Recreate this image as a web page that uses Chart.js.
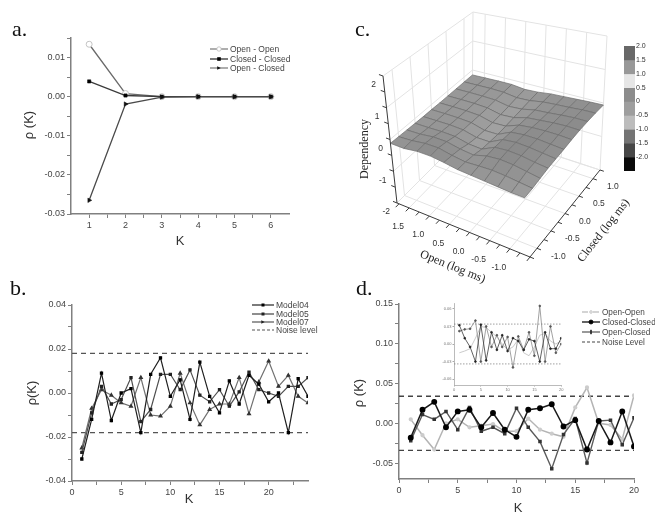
<!DOCTYPE html>
<html>
<head>
<meta charset="utf-8">
<script src="https://cdn.jsdelivr.net/npm/chart.js@4.4.1/dist/chart.umd.min.js"></script>
<style>
html,body{margin:0;padding:0;background:#fff;}
#root{position:relative;width:655px;height:513px;overflow:hidden;background:#fff;}
canvas{position:absolute;display:block;}
.plbl{position:absolute;font-family:"Liberation Serif","Times New Roman",serif;font-size:22px;line-height:22px;color:#111;}
.atitle{position:absolute;font-family:"Liberation Sans",Arial,sans-serif;font-size:13px;line-height:13px;color:#333;white-space:nowrap;}
.stitle{position:absolute;font-family:"Liberation Serif","Times New Roman",serif;font-size:12px;line-height:12px;color:#222;white-space:nowrap;}
.legrow{position:absolute;display:flex;align-items:center;font-family:"Liberation Sans",Arial,sans-serif;color:#444;white-space:nowrap;}
</style>
</head>
<body>
<div id="root">
<canvas id="cc" width="325" height="290" style="left:330px;top:0"></canvas>
<canvas id="ca" width="330" height="250" style="left:0;top:0"></canvas>
<canvas id="cb" width="330" height="263" style="left:0;top:250px"></canvas>
<canvas id="cd" width="325" height="263" style="left:330px;top:250px"></canvas>
<canvas id="cdi" width="126" height="96" style="left:440px;top:296px"></canvas>
<canvas id="ccb" width="39" height="140" style="left:616px;top:40px"></canvas>
</div>
<script>
// ================= DATA =================
// Panel a
const kA = [1, 2, 3, 4, 5, 6];
const openOpenA     = [0.0134, 0.0008, 0.0000, 0.0000, 0.0000, 0.0000];
const closedClosedA = [0.0039, 0.0003, 0.0000, 0.0000, 0.0000, 0.0000];
const openClosedA   = [-0.0265, -0.0019, -0.0001, 0.0000, 0.0000, 0.0000];
const namesA = ['Open - Open', 'Closed - Closed', 'Open - Closed'];
const xTicksA = [1, 2, 3, 4, 5, 6];
const xTickLabelsA = ['1', '2', '3', '4', '5', '6'];
const yTicksA = [-0.03, -0.02, -0.01, 0.00, 0.01];
const yTickLabelsA = ['-0.03', '-0.02', '-0.01', '0.00', '0.01'];

// Panel b
const kB = [1,2,3,4,5,6,7,8,9,10,11,12,13,14,15,16,17,18,19,20,21,22,23,24];
const model04B = [-0.030,-0.012,0.009,-0.0125,0.000,0.002,-0.018,0.0085,0.016,-0.0015,0.006,-0.012,0.014,-0.0015,-0.009,0.0055,-0.005,0.008,0.004,-0.004,0.000,-0.018,0.0065,-0.0015];
const model05B = [-0.027,-0.009,0.003,-0.005,-0.003,0.007,-0.013,-0.0075,0.0085,0.0085,0.0015,0.0105,-0.001,-0.004,0.0015,-0.006,0.0005,0.0095,0.0015,0.000,-0.0015,0.003,0.003,0.007];
const model07B = [-0.025,-0.007,0.0015,-0.001,-0.0045,-0.006,0.007,-0.010,-0.0105,-0.006,0.009,-0.0045,-0.0145,-0.0075,-0.005,-0.005,0.007,-0.0095,0.005,0.0145,0.003,0.008,-0.0015,-0.0045];
const noiseB = 0.018;
const namesB = ['Model04', 'Model05', 'Model07', 'Noise level'];
const xTicksB = [0, 5, 10, 15, 20];
const xTickLabelsB = ['0', '5', '10', '15', '20'];
const yTicksB = [-0.04, -0.02, 0.00, 0.02, 0.04];
const yTickLabelsB = ['-0.04', '-0.02', '0.00', '0.02', '0.04'];

// Panel d
const kD = [1,2,3,4,5,6,7,8,9,10,11,12,13,14,15,16,17,18,19,20];
const openOpenD     = [0.005,-0.015,-0.033,0.000,0.005,-0.005,-0.003,-0.001,-0.010,-0.010,0.006,-0.008,-0.013,-0.017,0.020,0.045,0.000,-0.002,-0.020,0.035];
const closedClosedD = [-0.018,0.017,0.027,-0.005,0.015,0.017,-0.005,0.013,-0.008,-0.017,0.017,0.019,0.024,-0.004,0.004,-0.033,0.003,-0.024,0.015,-0.029];
const openClosedD   = [-0.022,0.011,0.005,0.015,-0.008,0.020,-0.010,-0.005,-0.013,0.019,-0.005,-0.023,-0.057,-0.014,0.006,-0.050,0.003,0.004,-0.027,0.007];
const noiseD = 0.034;
const namesD = ['Open-Open', 'Closed-Closed', 'Open-Closed', 'Noise Level'];
const xTicksD = [0, 5, 10, 15, 20];
const xTickLabelsD = ['0', '5', '10', '15', '20'];
const yTicksD = [-0.05, 0.00, 0.05, 0.10, 0.15];
const yTickLabelsD = ['-0.05', '0.00', '0.05', '0.10', '0.15'];

// Panel d inset
const insetA = [0.032,0.010,-0.005,-0.030,0.033,-0.028,0.020,-0.010,0.015,-0.012,0.010,0.005,-0.010,0.008,0.005,-0.030,0.020,-0.008,-0.008,0.010];
const insetB = [0.022,0.025,0.026,0.040,-0.030,0.030,-0.005,0.015,-0.005,0.012,-0.040,0.013,-0.010,0.020,-0.020,0.065,-0.030,0.030,-0.015,0.000];
const insetC = [-0.015,-0.012,-0.008,0.010,0.030,0.028,0.020,0.012,0.000,-0.010,-0.005,0.008,-0.015,-0.020,-0.005,0.015,0.018,0.005,0.000,0.005];
const xTicksI = [0, 5, 10, 15, 20];
const xTickLabelsI = ['0', '5', '10', '15', '20'];
const yTicksI = [-0.06, -0.03, 0.00, 0.03, 0.06];
const yTickLabelsI = ['-0.06', '-0.03', '0.00', '0.03', '0.06'];

// Panel c (surface)
const openGrid   = [1.8, 1.47, 1.14, 0.81, 0.48, 0.15, -0.18, -0.51, -0.84, -1.17, -1.5];
const closedGrid = [-1.25, -1.0, -0.75, -0.5, -0.25, 0.0, 0.25, 0.5, 0.75, 1.0, 1.25];
const depGrid = [
 [-0.12,-0.12,-0.05,-0.04,-0.08,-0.14,-0.16,-0.18,-0.20,-0.22,-0.22],
 [-0.13,-0.10,-0.03,-0.02,-0.10,-0.15,-0.12,-0.10,-0.12,-0.16,-0.20],
 [-0.14,-0.12,-0.06,-0.06,-0.14,-0.18,-0.06,-0.02,-0.04,-0.10,-0.16],
 [-0.15,-0.14,-0.12,-0.13,-0.22,-0.24,-0.04, 0.00,-0.02,-0.08,-0.12],
 [-0.16,-0.15,-0.14,-0.16,-0.26,-0.26,-0.05, 0.00,-0.02,-0.06,-0.10],
 [-0.16,-0.15,-0.15,-0.17,-0.28,-0.27,-0.07,-0.02,-0.02,-0.05,-0.08],
 [-0.17,-0.16,-0.16,-0.18,-0.28,-0.26,-0.10,-0.05,-0.03,-0.03,-0.05],
 [-0.17,-0.16,-0.16,-0.18,-0.27,-0.24,-0.12,-0.08,-0.04,-0.02,-0.03],
 [-0.17,-0.16,-0.16,-0.17,-0.25,-0.22,-0.13,-0.10,-0.06,-0.03,-0.03],
 [-0.17,-0.16,-0.15,-0.16,-0.22,-0.20,-0.13,-0.10,-0.08,-0.05,-0.04],
 [-0.17,-0.16,-0.15,-0.15,-0.20,-0.18,-0.13,-0.11,-0.09,-0.07,-0.06]
];
const openRange = [1.8, -1.5];
const closedRange = [-1.25, 1.25];
const zRange = [-2, 2];
const zTicksC = [-2, -1, 0, 1, 2];
const zTickLabelsC = ['-2', '-1', '0', '1', '2'];
const openTicksC = [1.5, 1.0, 0.5, 0.0, -0.5, -1.0];
const openTickLabelsC = ['1.5', '1.0', '0.5', '0.0', '-0.5', '-1.0'];
const closedTicksC = [-1.0, -0.5, 0.0, 0.5, 1.0];
const closedTickLabelsC = ['-1.0', '-0.5', '0.0', '0.5', '1.0'];
const cbLevels = [2.0, 1.5, 1.0, 0.5, 0, -0.5, -1.0, -1.5, -2.0];
const cbLabels = ['2.0', '1.5', '1.0', '0.5', '0', '-0.5', '-1.0', '-1.5', '-2.0'];

// ================= STYLE / HELPERS =================
const SANS = '"Liberation Sans", Arial, sans-serif';
const near = (a, b) => Math.abs(a - b) < 1e-9;
const pts = (xs, ys) => xs.map((x, i) => ({x, y: ys[i]}));
function mids(arr, extra) {
  const r = [];
  for (let i = 0; i < arr.length - 1; i++) r.push((arr[i] + arr[i + 1]) / 2);
  return r.concat(extra || []);
}
function linAxis(min, max, majors, labels, minors, fit, o) {
  o = o || {};
  return {
    type: 'linear', min, max,
    afterBuildTicks: s => { s.ticks = majors.concat(minors).sort((a, b) => a - b).map(v => ({value: v})); },
    afterFit: s => { if (fit.w != null) s.width = fit.w; if (fit.h != null) s.height = fit.h; },
    ticks: {autoSkip: false, maxRotation: 0, minRotation: 0, padding: o.pad != null ? o.pad : 2,
      color: o.tc || '#444', font: {family: SANS, size: o.fs || 9},
      callback: v => { const i = majors.findIndex(m => near(m, v)); return i >= 0 ? labels[i] : ''; }},
    grid: {display: true, drawOnChartArea: false, drawTicks: true, tickLength: o.tl != null ? o.tl : 4,
      tickColor: o.bc || '#808080', tickWidth: o.tw || 1},
    border: {display: true, color: o.bc || '#808080', width: o.bw || 1.5}
  };
}
function baseOpts(padding, scales) {
  return {
    responsive: false, animation: false, events: [],
    layout: {padding},
    scales,
    plugins: {legend: {display: false}, tooltip: {enabled: false}},
    elements: {line: {tension: 0}}
  };
}
function hline(x0, x1, y) { return [{x: x0, y}, {x: x1, y}]; }

// ================= PANEL A =================
new Chart(document.getElementById('ca'), {
  type: 'line',
  data: {datasets: [
    {label: namesA[2], data: pts(kA, openClosedA), borderColor: '#4a4a4a', borderWidth: 1.3,
      pointStyle: 'triangle', pointRotation: 90, pointRadius: 2.6, pointBackgroundColor: '#111', pointBorderColor: '#111', pointBorderWidth: 0.5},
    {label: namesA[1], data: pts(kA, closedClosedA), borderColor: '#3a3a3a', borderWidth: 1.3,
      pointStyle: 'rect', pointRadius: 2.3, pointBackgroundColor: '#000', pointBorderColor: '#000', pointBorderWidth: 0.5},
    {label: namesA[0], data: pts(kA, openOpenA), borderColor: '#6a6a6a', borderWidth: 1.3,
      pointStyle: 'circle', pointRadius: 3, pointBackgroundColor: '#fff', pointBorderColor: '#c4c4c4', pointBorderWidth: 1}
  ]},
  options: baseOpts({left: 0, top: 38, right: 41, bottom: 0}, {
    x: linAxis(0.5, 6.5, xTicksA, xTickLabelsA, mids(xTicksA), {h: 36}),
    y: linAxis(-0.03, 0.015, yTicksA, yTickLabelsA, mids(yTicksA, [0.015]), {w: 71})
  })
});

// ================= PANEL B =================
new Chart(document.getElementById('cb'), {
  type: 'line',
  data: {datasets: [
    {label: namesB[0], data: pts(kB, model04B), borderColor: '#1e1e1e', borderWidth: 1.2,
      pointStyle: 'rect', pointRadius: 1.5, pointBackgroundColor: '#000', pointBorderColor: '#000'},
    {label: namesB[1], data: pts(kB, model05B), borderColor: '#4e4e4e', borderWidth: 1.2,
      pointStyle: 'rect', pointRadius: 1.5, pointBackgroundColor: '#222', pointBorderColor: '#222'},
    {label: namesB[2], data: pts(kB, model07B), borderColor: '#707070', borderWidth: 1.2,
      pointStyle: 'triangle', pointRadius: 1.7, pointBackgroundColor: '#333', pointBorderColor: '#333'},
    {label: namesB[3], data: hline(0, 24, noiseB), borderColor: '#555', borderWidth: 1.4, borderDash: [5, 4], pointRadius: 0},
    {label: namesB[3], data: hline(0, 24, -noiseB), borderColor: '#555', borderWidth: 1.4, borderDash: [5, 4], pointRadius: 0}
  ]},
  options: baseOpts({left: 0, top: 55, right: 22, bottom: 0}, {
    x: linAxis(0, 24, xTicksB, xTickLabelsB, mids(xTicksB, [22.5]), {h: 32}),
    y: linAxis(-0.04, 0.04, yTicksB, yTickLabelsB, mids(yTicksB), {w: 72})
  })
});

// ================= PANEL D =================
new Chart(document.getElementById('cd'), {
  type: 'line',
  data: {datasets: [
    {label: namesD[1], data: pts(kD, closedClosedD), borderColor: '#1a1a1a', borderWidth: 1.5,
      pointStyle: 'circle', pointRadius: 2.2, pointBackgroundColor: '#000', pointBorderColor: '#000'},
    {label: namesD[2], data: pts(kD, openClosedD), borderColor: '#5a5a5a', borderWidth: 1.4,
      pointStyle: 'rect', pointRadius: 1.5, pointBackgroundColor: '#333', pointBorderColor: '#333'},
    {label: namesD[0], data: pts(kD, openOpenD), borderColor: '#b4b4b4', borderWidth: 1.5,
      pointStyle: 'circle', pointRadius: 1.4, pointBackgroundColor: '#ccc', pointBorderColor: '#ccc'},
    {label: namesD[3], data: hline(0, 20, noiseD), borderColor: '#444', borderWidth: 1.4, borderDash: [5, 4], pointRadius: 0},
    {label: namesD[3], data: hline(0, 20, -noiseD), borderColor: '#444', borderWidth: 1.4, borderDash: [5, 4], pointRadius: 0}
  ]},
  options: baseOpts({left: 0, top: 54, right: 21, bottom: 0}, {
    x: linAxis(0, 20, xTicksD, xTickLabelsD, mids(xTicksD), {h: 34}),
    y: linAxis(-0.07, 0.15, yTicksD, yTickLabelsD, mids(yTicksD), {w: 69})
  })
});

// ================= PANEL D INSET =================
new Chart(document.getElementById('cdi'), {
  type: 'line',
  data: {datasets: [
    {data: pts(kD, insetA), borderColor: '#3a3a3a', borderWidth: 0.8, pointRadius: 0.9, pointBackgroundColor: '#222', pointBorderColor: '#222'},
    {data: pts(kD, insetB), borderColor: '#8a8a8a', borderWidth: 0.8, pointRadius: 0.9, pointBackgroundColor: '#555', pointBorderColor: '#555'},
    {data: pts(kD, insetC), borderColor: '#c4c4c4', borderWidth: 0.9, pointRadius: 0},
    {data: hline(0, 20, noiseD), borderColor: '#777', borderWidth: 0.7, borderDash: [1.5, 1.5], pointRadius: 0},
    {data: hline(0, 20, -noiseD), borderColor: '#777', borderWidth: 0.7, borderDash: [1.5, 1.5], pointRadius: 0}
  ]},
  options: baseOpts({left: 0, top: 7, right: 4, bottom: 0}, {
    x: linAxis(0, 20, xTicksI, xTickLabelsI, [], {h: 7}, {fs: 4, tl: 1.5, bw: 0.8, bc: '#aaa', tc: '#777', pad: 1}),
    y: linAxis(-0.07, 0.07, yTicksI, yTickLabelsI, [], {w: 14}, {fs: 4, tl: 1.5, bw: 0.8, bc: '#aaa', tc: '#777', pad: 1})
  })
});

// ================= PANEL C (3D surface) =================
const FRAME = {
  c000: [397, 203], c100: [530, 257], c010: [472, 128], c110: [600, 170],
  c001: [383, 76],  c101: [518, 124], c011: [473, 12],  c111: [607, 36]
};
function projUVW(u, v, w) {
  const bil = (a, b, c, d, k) => a[k]*(1-u)*(1-v) + b[k]*u*(1-v) + c[k]*(1-u)*v + d[k]*u*v;
  const F = FRAME;
  const lo = [0, 1].map(k => bil(F.c000, F.c100, F.c010, F.c110, k));
  const hi = [0, 1].map(k => bil(F.c001, F.c101, F.c011, F.c111, k));
  return {x: lo[0]*(1-w) + hi[0]*w, y: lo[1]*(1-w) + hi[1]*w};
}
const toU = o => (o - openRange[0]) / (openRange[1] - openRange[0]);
const toV = c => (c - closedRange[0]) / (closedRange[1] - closedRange[0]);
const toW = z => (z - zRange[0]) / (zRange[1] - zRange[0]);
const proj = (o, c, z) => projUVW(toU(o), toV(c), toW(z));
const GAP = {x: NaN, y: NaN};
function seg(list, a, b) { list.push(a, b, GAP); }
function surfColor(z) {
  const g = Math.max(118, Math.min(172, Math.round(150 - (z + 0.14) * 85)));
  return 'rgb(' + g + ',' + g + ',' + g + ')';
}

const dsC = [];
const wall = [];
openTicksC.forEach(o => seg(wall, projUVW(toU(o), 0, 0), projUVW(toU(o), 1, 0)));
closedTicksC.forEach(c => seg(wall, projUVW(0, toV(c), 0), projUVW(1, toV(c), 0)));
closedTicksC.forEach(c => seg(wall, projUVW(0, toV(c), 0), projUVW(0, toV(c), 1)));
zTicksC.forEach(z => seg(wall, projUVW(0, 0, toW(z)), projUVW(0, 1, toW(z))));
openTicksC.forEach(o => seg(wall, projUVW(toU(o), 1, 0), projUVW(toU(o), 1, 1)));
zTicksC.forEach(z => seg(wall, projUVW(0, 1, toW(z)), projUVW(1, 1, toW(z))));
seg(wall, projUVW(0, 1, 0), projUVW(0, 1, 1));
seg(wall, projUVW(1, 1, 0), projUVW(1, 1, 1));
seg(wall, projUVW(0, 1, 0), projUVW(1, 1, 0));
seg(wall, projUVW(0, 0, 0), projUVW(0, 1, 0));
dsC.push({data: wall, borderColor: '#e3e3e3', borderWidth: 1, pointRadius: 0, fill: false, order: 5000});

for (let j = 0; j < closedGrid.length - 1; j++) {
  for (let i = 0; i < openGrid.length - 1; i++) {
    const z00 = depGrid[j][i], z10 = depGrid[j][i+1], z11 = depGrid[j+1][i+1], z01 = depGrid[j+1][i];
    const poly = [
      proj(openGrid[i], closedGrid[j], z00),
      proj(openGrid[i+1], closedGrid[j], z10),
      proj(openGrid[i+1], closedGrid[j+1], z11),
      proj(openGrid[i], closedGrid[j+1], z01)
    ];
    poly.push(poly[0]);
    dsC.push({data: poly, fill: 'shape', backgroundColor: surfColor((z00+z10+z11+z01)/4),
      borderColor: '#6c6c6c', borderWidth: 0.7, pointRadius: 0, order: 1000 + (9 - i) + j});
  }
}

const ax = [];
seg(ax, projUVW(0, 0, 0), projUVW(0, 0, 1));
seg(ax, projUVW(0, 0, 0), projUVW(1, 0, 0));
seg(ax, projUVW(1, 0, 0), projUVW(1, 1, 0));
for (let z = -2; z <= 2.0001; z += 0.5) seg(ax, projUVW(0, 0, toW(z)), projUVW(-0.03, 0, toW(z)));
for (let o = 1.75; o >= -1.5001; o -= 0.25) seg(ax, projUVW(toU(o), 0, 0), projUVW(toU(o), -0.045, 0));
for (let c = -1.25; c <= 1.2501; c += 0.25) seg(ax, projUVW(1, toV(c), 0), projUVW(1.03, toV(c), 0));
dsC.push({data: ax, borderColor: '#3a3a3a', borderWidth: 1, pointRadius: 0, fill: false, order: 0});

const labels3D = {
  id: 'labels3D',
  afterDatasetsDraw(chart) {
    const ctx = chart.ctx, xs = chart.scales.x, ys = chart.scales.y;
    const P = p => [xs.getPixelForValue(p.x), ys.getPixelForValue(p.y)];
    ctx.save();
    ctx.font = '8.5px ' + SANS;
    ctx.fillStyle = '#333';
    ctx.textBaseline = 'middle';
    ctx.textAlign = 'right';
    zTicksC.forEach((z, i) => { const [x, y] = P(projUVW(0, 0, toW(z))); ctx.fillText(zTickLabelsC[i], x - 7, y + 9); });
    ctx.textAlign = 'center';
    openTicksC.forEach((o, i) => { const [x, y] = P(projUVW(toU(o), 0, 0)); ctx.fillText(openTickLabelsC[i], x - 11, y + 19); });
    ctx.textAlign = 'left';
    closedTicksC.forEach((c, i) => { const [x, y] = P(projUVW(1, toV(c), 0)); ctx.fillText(closedTickLabelsC[i], x + 14, y + 8); });
    ctx.restore();
  }
};

new Chart(document.getElementById('cc'), {
  type: 'line',
  data: {datasets: dsC},
  options: {
    responsive: false, animation: false, events: [],
    layout: {padding: 0},
    scales: {
      x: {type: 'linear', display: false, min: 330, max: 655},
      y: {type: 'linear', display: false, min: 0, max: 290, reverse: true}
    },
    plugins: {legend: {display: false}, tooltip: {enabled: false}, filler: {drawTime: 'beforeDatasetDraw'}},
    elements: {line: {tension: 0}}
  },
  plugins: [labels3D]
});

// colour bar
const cbColors = ['#686868', '#989898', '#e6e6e6', '#8c8c8c', '#9e9e9e', '#bcbcbc', '#747474', '#474747', '#0a0a0a'];
new Chart(document.getElementById('ccb'), {
  type: 'bar',
  data: {labels: [''], datasets: cbLevels.map((hi, i) => ({data: [[hi - 0.5, hi]], backgroundColor: cbColors[i], borderWidth: 0, grouped: false, barPercentage: 1, categoryPercentage: 1}))},
  options: {
    responsive: false, animation: false, events: [],
    layout: {padding: {left: 8, top: 6, bottom: 9, right: 0}},
    scales: {
      x: {display: false},
      y: {position: 'right', min: -2.5, max: 2.0,
        afterBuildTicks: s => { s.ticks = cbLevels.slice().reverse().map(v => ({value: v})); },
        afterFit: s => { s.width = 20; },
        ticks: {autoSkip: false, padding: 1, color: '#333', font: {family: SANS, size: 7},
          callback: v => { const i = cbLevels.findIndex(m => near(m, v)); return i >= 0 ? cbLabels[i] : ''; }},
        grid: {display: false, drawTicks: false, tickLength: 0}, border: {display: false}}
    },
    plugins: {legend: {display: false}, tooltip: {enabled: false}}
  }
});

// ================= HTML TEXT =================
const root = document.getElementById('root');
function addDiv(cls, text, style) {
  const d = document.createElement('div');
  d.className = cls; d.textContent = text;
  Object.assign(d.style, style);
  root.appendChild(d);
  return d;
}
addDiv('plbl', 'a.', {left: '12px', top: '18px'});
addDiv('plbl', 'b.', {left: '10px', top: '277px'});
addDiv('plbl', 'c.', {left: '355px', top: '18px'});
addDiv('plbl', 'd.', {left: '356px', top: '277px'});

function centered(cls, text, cx, cy, rot) {
  return addDiv(cls, text, {left: cx + 'px', top: cy + 'px', transform: 'translate(-50%,-50%) rotate(' + rot + 'deg)'});
}
centered('atitle', 'ρ (K)', 28, 125, -90);
centered('atitle', 'K', 180, 240, 0);
centered('atitle', 'ρ(K)', 31, 393, -90);
centered('atitle', 'K', 189, 498, 0);
centered('atitle', 'ρ (K)', 358, 393, -90);
centered('atitle', 'K', 518, 507, 0);
centered('stitle', 'Dependency', 364, 149, -90);
centered('stitle', 'Open (log ms)', 453, 266, 22);
centered('stitle', 'Closed (log ms)', 603, 230, -52);

function markerSVG(m, cx, cy) {
  if (!m) return '';
  const f = m.fill, s = m.stroke || m.fill, r = m.r;
  if (m.shape === 'circle') return '<circle cx="' + cx + '" cy="' + cy + '" r="' + r + '" fill="' + f + '" stroke="' + s + '" stroke-width="0.8"/>';
  if (m.shape === 'rect') return '<rect x="' + (cx - r) + '" y="' + (cy - r) + '" width="' + (2*r) + '" height="' + (2*r) + '" fill="' + f + '"/>';
  if (m.shape === 'vbar') return '<rect x="' + (cx - 0.8) + '" y="' + (cy - r) + '" width="1.6" height="' + (2*r) + '" fill="' + f + '"/>';
  if (m.shape === 'tri') return '<polygon points="' + (cx - r) + ',' + (cy - r) + ' ' + (cx + r) + ',' + cy + ' ' + (cx - r) + ',' + (cy + r) + '" fill="' + f + '"/>';
  return '';
}
function addLegend(x, ys, fs, sw, entries) {
  entries.forEach((e, i) => {
    const row = document.createElement('div');
    row.className = 'legrow';
    Object.assign(row.style, {left: x + 'px', top: (ys[i] - 6) + 'px', height: '12px', fontSize: fs + 'px'});
    const svg = '<svg width="' + sw + '" height="12" style="flex:none;margin-right:2px">' +
      '<line x1="0" y1="6" x2="' + sw + '" y2="6" stroke="' + e.color + '" stroke-width="' + (e.width || 1.2) + '"' +
      (e.dash ? ' stroke-dasharray="' + e.dash + '"' : '') + '/>' + markerSVG(e.marker, sw / 2, 6) + '</svg>';
    row.innerHTML = svg;
    const sp = document.createElement('span');
    sp.textContent = e.text;
    row.appendChild(sp);
    root.appendChild(row);
  });
}
addLegend(210, [49, 58.5, 67.5], 8.5, 18, [
  {text: namesA[0], color: '#777', marker: {shape: 'circle', r: 2.2, fill: '#fff', stroke: '#bbb'}},
  {text: namesA[1], color: '#222', marker: {shape: 'rect', r: 1.8, fill: '#000'}},
  {text: namesA[2], color: '#777', marker: {shape: 'tri', r: 1.8, fill: '#111'}}
]);
addLegend(252, [305, 313.5, 322, 330], 8.5, 22, [
  {text: namesB[0], color: '#222', marker: {shape: 'rect', r: 1.5, fill: '#000'}},
  {text: namesB[1], color: '#444', marker: {shape: 'rect', r: 1.5, fill: '#222'}},
  {text: namesB[2], color: '#555', marker: {shape: 'tri', r: 1.7, fill: '#222'}},
  {text: namesB[3], color: '#555', dash: '3,2'}
]);
addLegend(582, [312, 322, 332, 342], 8.2, 18, [
  {text: namesD[0], color: '#aaa', dash: '6,2,1,2', marker: {shape: 'circle', r: 1.4, fill: '#ddd', stroke: '#ccc'}},
  {text: namesD[1], color: '#222', width: 1.4, marker: {shape: 'circle', r: 2, fill: '#000'}},
  {text: namesD[2], color: '#555', marker: {shape: 'vbar', r: 2.2, fill: '#222'}},
  {text: namesD[3], color: '#444', dash: '3,2'}
]);
</script>
</body>
</html>
